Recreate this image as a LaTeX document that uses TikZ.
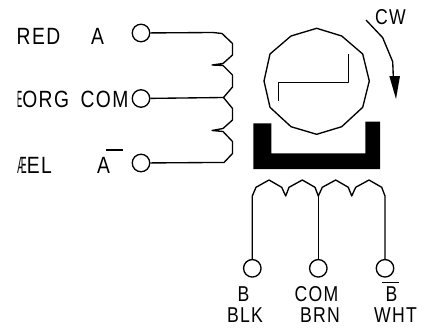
\documentclass[tikz,border=0pt]{standalone}
\usepackage{xcolor}
\usepackage{fontspec}
\setmainfont{Liberation Sans}[FakeStretch=0.82, LetterSpace=6]
\tikzset{
	wire/.style={line width=1.35pt, line join=round},
	term/.style={draw, circle, line width=1.35pt, minimum size=17.5pt, inner sep=0pt},
	lab/.style={inner sep=0pt, font=\fontsize{23.5}{23.5}\selectfont},
	lowlab/.style={inner sep=0pt, font=\fontsize{21.5}{21.5}\selectfont},
}
\begin{document}
\begin{tikzpicture}[x=1pt, y=-1pt]
	\useasboundingbox (0,0) rectangle (428,329);
	% left winding
	\node[term] (ta) at (141,33) {};
	\node[term] (tc) at (141,98.5) {};
	\node[term] (tn) at (141,163) {};
	\coordinate (mid) at (223.5,97.5);
	\draw[wire] (ta)--(213,32.5)--(222,33.5)--(232.5,43.5)--(232.5,55)--(223,63.5)--(212,65)--(223,65.5)--(232.5,75)--(232.5,87)--(mid)--(232.5,108.5)--(232.5,120)--(223,128.5)--(212,130.5)--(223,131.5)--(232.5,141.5)--(232.5,153.5)--(224,162.5)--(213,162.5)--(tn);
	\draw[wire] (tc)--(mid);
	% rotor
	\draw[wire] (316.7,28.3)--(341.7,36)--(362.7,54)--(369.3,81)--(362.7,107.3)--(341.7,126.7)--(316.7,134.3)--(291,126.7)--(270,107.3)--(264,81)--(270,54)--(291,36)--cycle;
	\draw[wire] (278.3,100.7)--(278.3,82.3)--(348.7,82.3)--(348.7,54);
	% core
	\fill (253.3,123.3)--(271.3,123.3)--(271.3,153.3)--(365.3,153.3)--(365.3,121.7)--(380,121.7)--(380,169)--(253.3,169)--cycle;
	% direction arrow
	\draw[wire] (366,20)--(382.7,37.7)--(392.7,61.7)--(393.3,76.5);
	\fill (389.3,76)--(400,76)--(396,99)--cycle;
	\node[lowlab] (cw) at (390.5,17.5) {CW};
	% lower winding
	\node[term] (tb) at (252.3,268.3) {};
	\node[term] (td) at (318.3,268.3) {};
	\node[term] (te) at (385,268.3) {};
	\coordinate (low) at (318.3,196);
	\draw[wire] (tb)--(252.3,196)--(256,187.3)--(269,180)--(281.7,187.3)--(285.7,196)--(289,187.3)--(302.3,180)--(315,187.3)--(low)--(322.3,187.3)--(335.7,180)--(348.3,187.3)--(351.7,196)--(355.7,187.3)--(369,180)--(381.7,187.3)--(385,196)--(te);
	\draw[wire] (td)--(low);
	% labels
	\node[lab] (red) at (38.5,36.5) {RED};
	\node[lab] (a) at (97.5,36.5) {A};
	\node[lab, anchor=west] (org) at (17,99.5) {\scalebox{.4}[1]{E}ORG};
	\node[lab] (com) at (104.5,99.5) {COM};
	\node[lab, anchor=west] (yel) at (17,165.5) {\scalebox{.5}[1]{Æ}EL};
	\node[lab] (abar) at (103.5,165.5) {A};
	\draw[wire] (106,150)--(123,150);
	\node[lowlab] (b) at (243.5,294) {B};
	\node[lowlab] (bc) at (316.5,294) {COM};
	\node[lowlab] (bb) at (391.5,294) {B};
	\draw[wire] (381.7,282.3)--(399,282.3);
	\node[lowlab] (blk) at (245,315.5) {BLK};
	\node[lowlab] (brn) at (320,315.5) {BRN};
	\node[lowlab] (wht) at (395.5,315.5) {WHT};
\end{tikzpicture}
\end{document}
